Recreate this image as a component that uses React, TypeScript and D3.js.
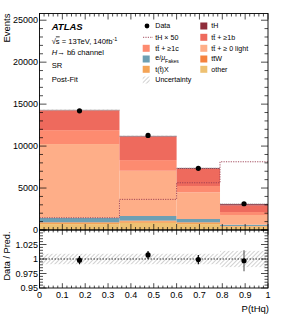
import React from 'react';
import * as d3 from 'd3';

const binEdges = [0, 0.35, 0.6, 0.79, 1];
const dataCounts = [14200, 11270, 7350, 3130];
const other = [700, 850, 700, 380];
const ttX = [150, 170, 150, 70];
const ttW = [70, 100, 70, 30];
const fakes = [540, 550, 390, 150];
const ttLight = [8780, 5390, 3180, 1160];
const ttC = [1660, 1270, 750, 350];
const tt1b = [2360, 2790, 2030, 800];
const tH = [29, 73, 113, 163];
const tHx50 = [1460, 3650, 5630, 8130];
const relUnc = [0.009, 0.009, 0.009, 0.014];
const ratioVals = [0.998, 1.007, 0.999, 0.997];
const ratioErr = [0.007, 0.007, 0.008, 0.018];
const yTicksMain = [0, 5000, 10000, 15000, 20000, 25000];
const yTicksRatio = [0.95, 0.975, 1, 1.025];
const xTickLabels = ['0', '0.1', '0.2', '0.3', '0.4', '0.5', '0.6', '0.7', '0.8', '0.9', '1'];

const colors = {
  other: '#eec172',
  ttX: '#f4a456',
  ttW: '#f5823e',
  fakes: '#6d9fb3',
  ttLight: '#feae88',
  ttC: '#fd8b70',
  tt1b: '#ee6a5d',
  tH: '#8f2d3b',
};

const stackOrder: [string, number[]][] = [
  ['other', other],
  ['ttX', ttX],
  ['ttW', ttW],
  ['fakes', fakes],
  ['ttLight', ttLight],
  ['ttC', ttC],
  ['tt1b', tt1b],
  ['tH', tH],
];

const L = 39.5, R = 268, T = 13.5, MID = 230, B = 288;
const FONT = "'Liberation Sans', Arial, Helvetica, sans-serif";

export default function App() {
  const x = d3.scaleLinear().domain([0, 1]).range([L, R]);
  const y = d3.scaleLinear().domain([0, 25800]).range([MID, T]);
  const yr = d3.scaleLinear().domain([0.95, 1.05]).range([B, MID]);

  const bins = binEdges.slice(0, -1).map((e, i) => ({ x0: e, x1: binEdges[i + 1], i }));

  const rects: JSX.Element[] = [];
  bins.forEach((b) => {
    let cum = 0;
    stackOrder.forEach(([k, arr]) => {
      const v = arr[b.i];
      rects.push(
        <rect key={k + b.i} x={x(b.x0)} width={x(b.x1) - x(b.x0)} y={y(cum + v)} height={y(cum) - y(cum + v)} fill={(colors as any)[k]} />
      );
      cum += v;
    });
  });
  const totals = bins.map((b) => stackOrder.reduce((s, [, arr]) => s + arr[b.i], 0));

  // tH x50 step line
  const stepPts: [number, number][] = [];
  bins.forEach((b) => {
    stepPts.push([x(b.x0), y(tHx50[b.i])]);
    stepPts.push([x(b.x1), y(tHx50[b.i])]);
  });
  const stepLine = d3.line()(stepPts) || '';

  const xMajor = d3.range(0, 11).map((d) => d / 10);
  const xMinor = d3.range(0, 51).map((d) => d / 50);
  const yMinor = d3.range(0, 26).map((d) => d * 1000);
  const yrMinor = d3.range(0, 21).map((d) => 0.95 + d * 0.005);

  const tickStroke = '#000';

  return (
    <svg width={284} height={320} style={{ position: 'absolute', left: 0, top: 0, background: '#fff' }} fontFamily={FONT}>
      <defs>
        <pattern id="hatch" patternUnits="userSpaceOnUse" width={3} height={3} patternTransform="rotate(45)">
          <line x1={0} y1={0} x2={0} y2={3} stroke="#9a9a9a" strokeWidth={0.9} />
        </pattern>
        <clipPath id="mainClip"><rect x={L} y={T} width={R - L} height={MID - T} /></clipPath>
        <clipPath id="ratioClip"><rect x={L} y={MID} width={R - L} height={B - MID} /></clipPath>
      </defs>
      <rect x={0} y={0} width={284} height={320} fill="#fff" />

      {/* main panel */}
      <g clipPath="url(#mainClip)">
        {rects}
        {bins.map((b) => (
          <rect key={'u' + b.i} x={x(b.x0)} width={x(b.x1) - x(b.x0)}
            y={y(totals[b.i] * (1 + relUnc[b.i] * 0.5))}
            height={y(totals[b.i] * (1 - relUnc[b.i] * 0.5)) - y(totals[b.i] * (1 + relUnc[b.i] * 0.5))}
            fill="url(#hatch)" stroke="#b0b0b0" strokeWidth={0.6} strokeDasharray="1,1" />
        ))}
        <path d={stepLine} fill="none" stroke="#9a3a4e" strokeWidth={0.9} strokeDasharray="1.2,1.2" />
        {bins.map((b) => {
          const cx = x((b.x0 + b.x1) / 2);
          const e = Math.sqrt(dataCounts[b.i]);
          return (
            <g key={'d' + b.i}>
              <line x1={cx} x2={cx} y1={y(dataCounts[b.i] - e)} y2={y(dataCounts[b.i] + e)} stroke="#000" strokeWidth={1} />
              <circle cx={cx} cy={y(dataCounts[b.i])} r={2.6} fill="#000" />
            </g>
          );
        })}
      </g>

      {/* ratio panel */}
      <g clipPath="url(#ratioClip)">
        {bins.map((b) => (
          <rect key={'ru' + b.i} x={x(b.x0)} width={x(b.x1) - x(b.x0)}
            y={yr(1 + relUnc[b.i])} height={yr(1 - relUnc[b.i]) - yr(1 + relUnc[b.i])} fill="url(#hatch)" />
        ))}
        <line x1={L} x2={R} y1={yr(1)} y2={yr(1)} stroke="#000" strokeWidth={0.8} strokeDasharray="1.5,1.5" />
        {bins.map((b) => {
          const cx = x((b.x0 + b.x1) / 2);
          return (
            <g key={'r' + b.i}>
              <line x1={cx} x2={cx} y1={yr(ratioVals[b.i] - ratioErr[b.i])} y2={yr(ratioVals[b.i] + ratioErr[b.i])} stroke={b.i === 3 ? '#666' : '#000'} strokeWidth={1.2} />
              <circle cx={cx} cy={yr(ratioVals[b.i])} r={2.6} fill="#000" />
            </g>
          );
        })}
      </g>

      {/* ticks main panel */}
      <g stroke={tickStroke} strokeWidth={0.7}>
        {yMinor.map((v) => {
          const maj = v % 5000 === 0;
          const len = maj ? 7 : 3.5;
          return (
            <g key={'ym' + v}>
              <line x1={L} x2={L + len} y1={y(v)} y2={y(v)} />
              <line x1={R} x2={R - len} y1={y(v)} y2={y(v)} />
            </g>
          );
        })}
        {xMinor.map((v, i) => {
          const maj = i % 5 === 0;
          const len = maj ? 6 : 3;
          return (
            <g key={'xm' + i}>
              <line x1={x(v)} x2={x(v)} y1={MID} y2={MID - len} />
              <line x1={x(v)} x2={x(v)} y1={T} y2={T + len} />
              <line x1={x(v)} x2={x(v)} y1={B} y2={B - len * 0.8} />
              <line x1={x(v)} x2={x(v)} y1={MID} y2={MID + len * 0.8} />
            </g>
          );
        })}
        {yrMinor.map((v, i) => {
          const maj = i % 5 === 0;
          const len = maj ? 7 : 3.5;
          return (
            <g key={'yr' + i}>
              <line x1={L} x2={L + len} y1={yr(v)} y2={yr(v)} />
              <line x1={R} x2={R - len} y1={yr(v)} y2={yr(v)} />
            </g>
          );
        })}
      </g>

      {/* frames */}
      <rect x={L} y={T} width={R - L} height={MID - T} fill="none" stroke="#000" strokeWidth={0.9} />
      <rect x={L} y={MID} width={R - L} height={B - MID} fill="none" stroke="#000" strokeWidth={0.9} />

      {/* tick labels */}
      <g fontSize={9} fill="#000">
        {yTicksMain.map((v) => (
          <text key={'tl' + v} x={L - 1.5} y={y(v)} dy="0.35em" textAnchor="end">{v}</text>
        ))}
        {yTicksRatio.map((v) => (
          <text key={'trl' + v} x={L - 1.5} y={yr(v)} dy="0.35em" textAnchor="end">{String(v)}</text>
        ))}
        {xMajor.map((v, i) => (
          <text key={'xl' + i} x={x(v)} y={298} textAnchor="middle">{xTickLabels[i]}</text>
        ))}
      </g>

      {/* axis titles */}
      <text fontSize={9.5} textAnchor="end" transform={`translate(9.5,${T}) rotate(-90)`}>Events</text>
      <text fontSize={9.2} textAnchor="middle" transform={`translate(9.5,${(MID + B) / 2 - 3}) rotate(-90)`}>Data / Pred.</text>
      <text fontSize={9.5} textAnchor="end" x={R + 1} y={312}>P(tHq)</text>

      {/* ATLAS label */}
      <text x={51.7} y={30} fontSize={9.5} fontWeight="bold" fontStyle="italic">ATLAS</text>
      <text x={51.7} y={43.5} fontSize={7.6}>
        <tspan>√</tspan><tspan textDecoration="overline" style={{ textDecoration: 'overline' }}>s</tspan>
        <tspan> = 13TeV, 140fb</tspan><tspan fontSize={5.5} dy={-3}>-1</tspan>
      </text>
      <text x={51.7} y={55} fontSize={7.6}>
        <tspan fontStyle="italic">H</tspan><tspan>→ bb̄ channel</tspan>
      </text>
      <text x={51.7} y={68} fontSize={7.6}>SR</text>
      <text x={51.7} y={81.5} fontSize={7.6}>Post-Fit</text>

      {/* legend */}
      <g fontSize={7.1}>
        <circle cx={147} cy={26} r={2.4} fill="#000" />
        <text x={155.3} y={26} dy="0.35em">Data</text>
        <line x1={143} x2={153} y1={37.3} y2={37.3} stroke="#9a3a4e" strokeWidth={0.9} strokeDasharray="1.2,1.2" />
        <text x={155.3} y={37.3} dy="0.35em">tH × 50</text>
        <rect x={142.7} y={44.8} width={7} height={7} fill={colors.ttC} />
        <text x={155.3} y={48.3} dy="0.35em">tt̄ + ≥1c</text>
        <rect x={142.7} y={55.5} width={7} height={7} fill={colors.fakes} />
        <text x={155.3} y={58} dy="0.35em">e/<tspan fontStyle="italic">μ</tspan><tspan fontSize={5} dy={2.2}>Fakes</tspan></text>
        <rect x={142.7} y={65.8} width={7} height={7} fill={colors.ttX} />
        <text x={155.3} y={69.3} dy="0.35em">t(t̄)X</text>
        <rect x={142.7} y={76.5} width={7} height={7} fill="url(#hatch)" />
        <text x={155.3} y={80} dy="0.35em">Uncertainty</text>

        <rect x={200.3} y={22.5} width={7} height={7} fill={colors.tH} />
        <text x={211.3} y={26} dy="0.35em">tH</text>
        <rect x={200.3} y={33.8} width={7} height={7} fill={colors.tt1b} />
        <text x={211.3} y={37.3} dy="0.35em">tt̄ + ≥1b</text>
        <rect x={200.3} y={44.8} width={7} height={7} fill={colors.ttLight} />
        <text x={211.3} y={48.3} dy="0.35em">tt̄ + ≥ 0 light</text>
        <rect x={200.3} y={55.5} width={7} height={7} fill={colors.ttW} />
        <text x={211.3} y={59} dy="0.35em">tt̄W</text>
        <rect x={200.3} y={65.8} width={7} height={7} fill={colors.other} />
        <text x={211.3} y={69.3} dy="0.35em">other</text>
      </g>
    </svg>
  );
}
